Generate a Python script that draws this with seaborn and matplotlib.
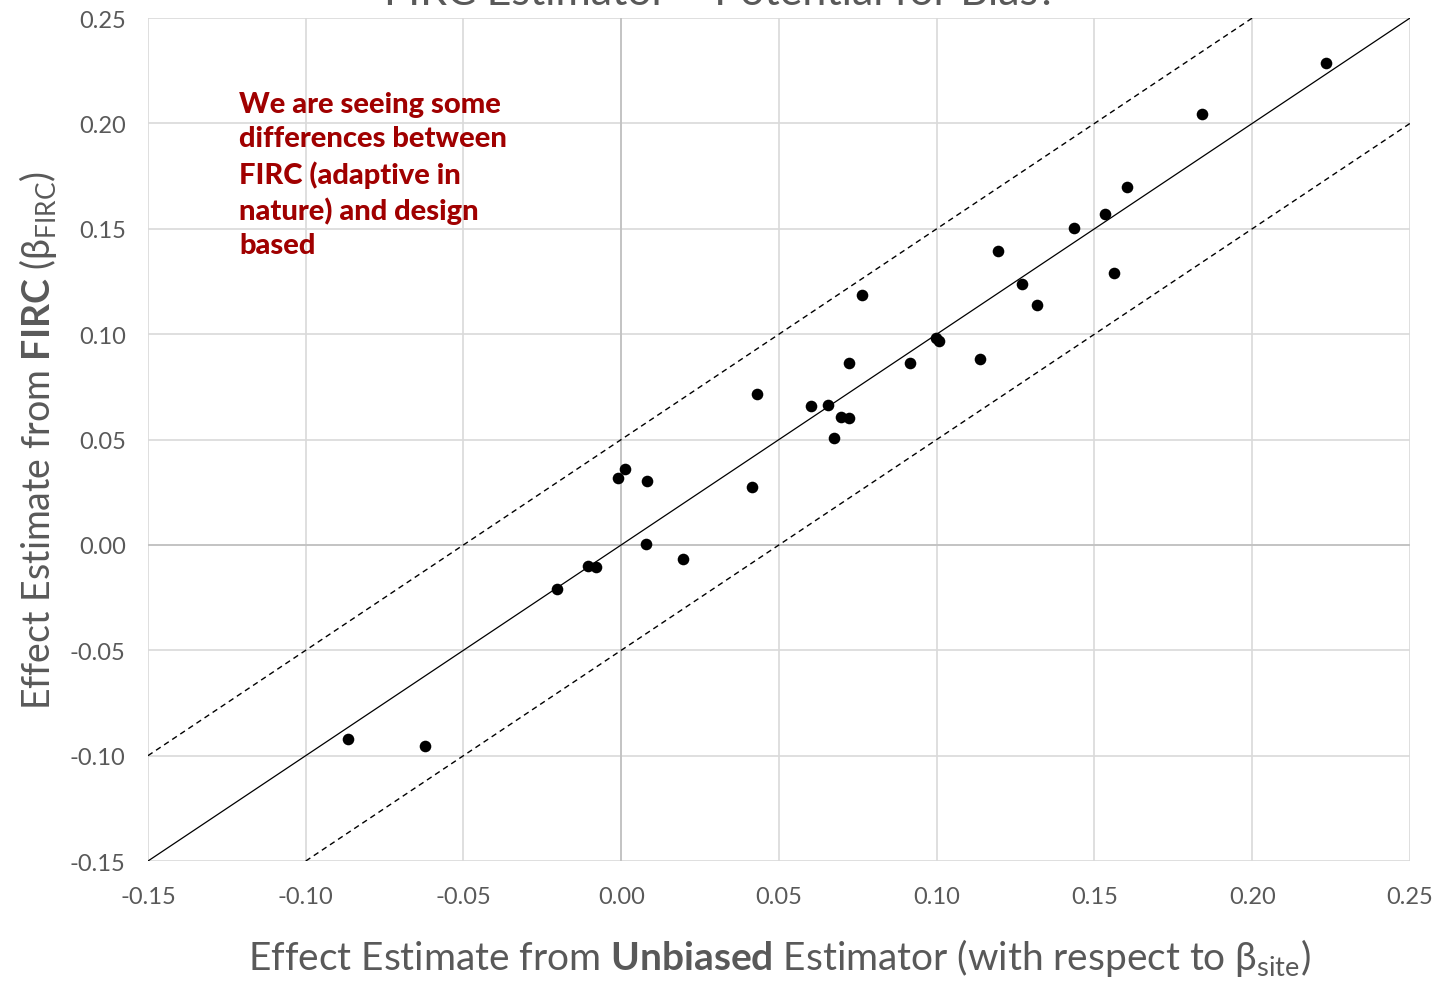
import matplotlib
matplotlib.use("Agg")
import matplotlib.pyplot as plt
import seaborn as sns
import pandas as pd

# Data
unbiased = [-0.0867, -0.0623, -0.0204, -0.0106, -0.0081, -0.0011, 0.0011, 0.0081,
            0.0078, 0.0195, 0.0414, 0.0429, 0.0600, 0.0654, 0.0696, 0.0721,
            0.0674, 0.0762, 0.0721, 0.0914, 0.0997, 0.1006, 0.1136, 0.1193,
            0.1269, 0.1317, 0.1434, 0.1533, 0.1561, 0.1602, 0.1840, 0.2233]
firc = [-0.0920, -0.0954, -0.0209, -0.0100, -0.0104, 0.0318, 0.0361, 0.0304,
        0.0005, -0.0066, 0.0275, 0.0717, 0.0660, 0.0664, 0.0607, 0.0603,
        0.0508, 0.1186, 0.0864, 0.0864, 0.0982, 0.0968, 0.0883, 0.1395,
        0.1238, 0.1139, 0.1504, 0.1571, 0.1291, 0.1699, 0.2045, 0.2287]
ticks = [-0.15, -0.10, -0.05, 0.00, 0.05, 0.10, 0.15, 0.20, 0.25]
band = 0.05
title = "FIRC Estimator \u2013 Potential for Bias?"
note = "We are seeing some\ndifferences between\nFIRC (adaptive in\nnature) and design\nbased"

df = pd.DataFrame({"unbiased": unbiased, "firc": firc})

sns.set_theme(style="white")
plt.rcParams["font.family"] = ["Lato", "DejaVu Sans"]
plt.rcParams["mathtext.fontset"] = "custom"
plt.rcParams["mathtext.rm"] = "Lato"
plt.rcParams["mathtext.bf"] = "Lato:bold"
plt.rcParams["mathtext.it"] = "Lato"
plt.rcParams["mathtext.fallback"] = "stixsans"

fig = plt.figure(figsize=(14.42, 9.87), dpi=100)
ax = fig.add_axes([0.1026, 0.1266, 0.8752, 0.8541])

sns.scatterplot(data=df, x="unbiased", y="firc", ax=ax, color="black", s=70,
                edgecolor="black", linewidth=0, zorder=5)

ax.axline((0, 0), slope=1, color="black", lw=0.9, zorder=3)
ax.axline((0, band), slope=1, color="black", lw=1.0, ls=(0, (4, 3)), zorder=3)
ax.axline((0, -band), slope=1, color="black", lw=1.0, ls=(0, (4, 3)), zorder=3)

ax.set_xlim(ticks[0], ticks[-1])
ax.set_ylim(ticks[0], ticks[-1])
ax.set_xticks(ticks)
ax.set_yticks(ticks)
ax.set_xticklabels([f"{t:.2f}" for t in ticks])
ax.set_yticklabels([f"{t:.2f}" for t in ticks])
ax.grid(True, color="#d9d9d9", lw=1.2)
ax.set_axisbelow(True)
ax.axhline(0, color="#bfbfbf", lw=1.2, zorder=1)
ax.axvline(0, color="#bfbfbf", lw=1.2, zorder=1)
for s in ax.spines.values():
    s.set_visible(False)
ax.tick_params(axis="x", labelsize=17, colors="#595959", length=0, pad=18)
ax.tick_params(axis="y", labelsize=17, colors="#595959", length=0, pad=16)

ax.set_xlabel(r"Effect Estimate from $\mathbf{Unbiased}$ Estimator (with respect to $\beta_{\mathrm{site}}$)",
              fontsize=28, color="#595959", labelpad=21)
ax.set_ylabel(r"Effect Estimate from $\mathbf{FIRC}$ ($\beta_{\mathrm{FIRC}}$)",
              fontsize=27, color="#595959", labelpad=8)

fig.text(0.5, 0.995, title, ha="center", va="baseline", fontsize=31, color="#595959")

ax.text(-0.121, 0.2152, note, ha="left", va="top", fontsize=21, fontweight="black",
        color="#a00000", linespacing=1.38, family=["Lato", "DejaVu Sans"], zorder=6)

fig.savefig("out.png", dpi=100)
